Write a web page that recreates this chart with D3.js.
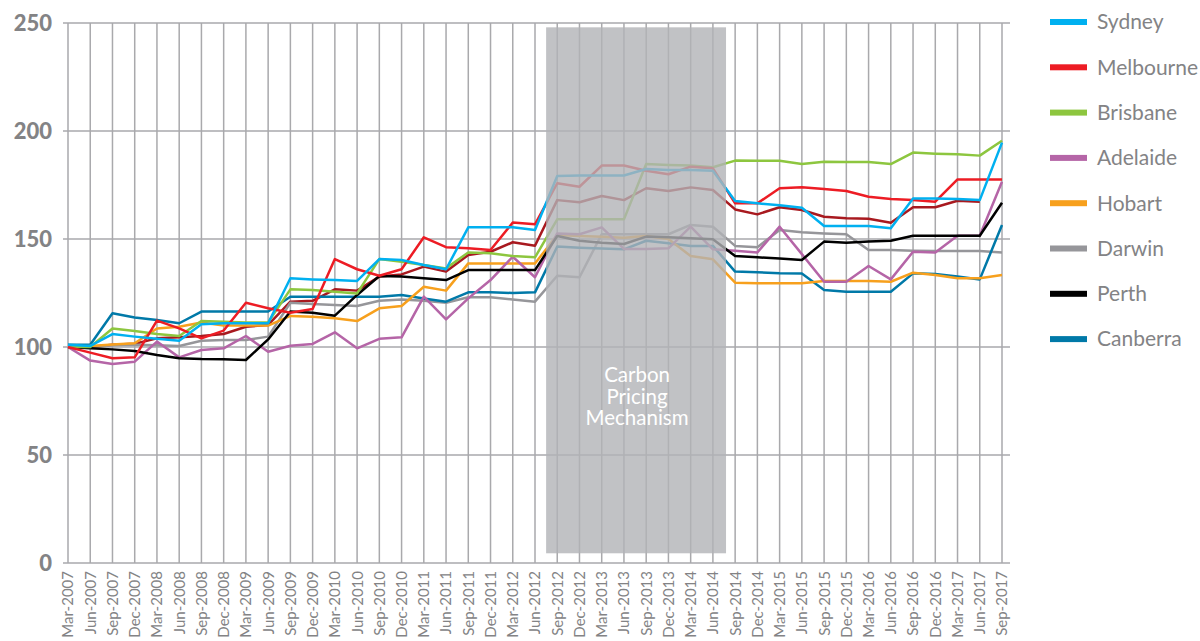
<!DOCTYPE html>
<html>
<head>
<meta charset="utf-8">
<script src="https://cdn.jsdelivr.net/npm/d3@7"></script>
<style>
  body { margin: 0; background: #fff; }
  svg text { font-family: Lato, "Open Sans", sans-serif; }
</style>
</head>
<body>
<svg id="chart" width="1200" height="641"></svg>
<script>

var quarters = [
	"Mar-2007","Jun-2007","Sep-2007","Dec-2007","Mar-2008","Jun-2008","Sep-2008","Dec-2008",
	"Mar-2009","Jun-2009","Sep-2009","Dec-2009","Mar-2010","Jun-2010","Sep-2010","Dec-2010",
	"Mar-2011","Jun-2011","Sep-2011","Dec-2011","Mar-2012","Jun-2012","Sep-2012","Dec-2012",
	"Mar-2013","Jun-2013","Sep-2013","Dec-2013","Mar-2014","Jun-2014","Sep-2014","Dec-2014",
	"Mar-2015","Jun-2015","Sep-2015","Dec-2015","Mar-2016","Jun-2016","Sep-2016","Dec-2016",
	"Mar-2017","Jun-2017","Sep-2017"];

var yTicks = [0, 50, 100, 150, 200, 250];

var sydney = [101,100.5,106,104.8,103.8,102.9,110.5,111,111,111,131.8,131.3,131,130.6,140.7,140.3,138,136,155.4,155.4,155.4,154.2,
	179.2,179.4,179.4,179.4,182.4,182,182,181.6,167.6,166.5,165.6,164.5,156,156,156,155,168.8,168.8,168.5,168,194.6];
var melbourne = [100,97.4,94.8,95.2,112.2,108.6,104,107.6,120.5,117.9,115.9,117.6,140.7,136,133,136,150.8,146.2,145.7,144.9,157.6,156.8,
	175.8,174.2,184,184,181.6,180,183.5,182.7,166.5,166.5,173.5,174,173.1,172.2,169.6,168.5,168,167.3,177.6,177.6,177.6];
var brisbane = [100,100,108.6,107.4,106,105.1,112,111.7,111.4,111.4,126.7,126.4,125.6,124.8,140.7,139.5,138,136.4,143.8,143.4,142.1,141.5,
	159.1,159.1,159.1,159.1,184.7,184.3,184,183.2,186.3,186.2,186.2,184.7,185.8,185.7,185.7,184.7,190,189.5,189.2,188.6,195.5];
var adelaide = [100,93.7,92.1,93.2,102.5,95.2,98.6,99.4,105.1,97.8,100.6,101.4,106.8,99.4,103.8,104.5,123.3,112.8,122.5,131,141.8,132.3,
	152.6,152.2,155.4,145.4,145.4,145.7,155.7,145.2,144.6,143.8,155.7,143,130.2,130.2,137.5,131.3,144.1,143.8,151.5,151.5,176.5];
var hobart = [100,100.5,101.2,101.7,108.6,109.4,111.3,109.9,109.9,109.9,114.4,114,113.3,112,117.9,119,127.9,126.1,138.7,138.7,138.7,138.7,
	151.9,151.4,151,150.6,151.4,150,142.1,140.6,129.8,129.5,129.5,129.5,130.6,130.6,130.6,130.2,134.4,133.3,131.8,131.8,133.3];
var darwin = [100,100,100.8,101,100.8,100.5,102.9,103.2,103.2,104.8,120.5,119.9,119.4,119,121.4,122,121.4,120.5,123,123,122,121,
	133,132.3,152.2,152.2,152.2,152.2,156.5,155.7,146.8,146.2,154.2,153.1,152.6,152.2,144.9,144.9,144.6,144.5,144.5,144.5,143.8];
var perth = [100,99.4,98.9,98.1,96.3,94.8,94.4,94.3,94,103.5,116.4,115.9,114.5,124.1,132.9,132.6,131.8,131,135.6,135.6,135.6,135.6,
	151.4,149.2,148.3,147.7,151.1,150.8,150.3,149.9,142.1,141.5,141,140.3,148.8,148.3,148.8,149.2,151.5,151.5,151.5,151.5,166.8];
var canberra = [101,101,115.6,113.7,112.5,111,116.4,116.4,116.4,116.4,123.3,123.3,123.3,123.3,123.3,124.1,122.5,121,125.3,125.3,125,125.3,
	146.5,146,145.6,145.2,149.2,148,146.8,146.8,134.9,134.6,134.1,134,126.4,125.6,125.6,125.6,134.1,133.8,132.6,131.3,156.5];
// dark red line, not in the legend, stops at Jun-2017
var unlabelled = [100,100,101,101.5,104,104.5,105.1,106,109.4,110.2,121,121.4,126.7,126.1,132.6,133.6,137.2,134.9,142.6,144.1,148.5,146.9,
	168,167,169.9,168,173.5,172.2,173.9,172.7,163.7,161.4,164.7,163.4,160.3,159.6,159.4,157.5,164.7,164.7,167.7,167.3,null];

var cityNames = ["Sydney","Melbourne","Brisbane","Adelaide","Hobart","Darwin","Perth","Canberra"];
var cityColors = ["#00b0f0","#ed1c24","#8dc63f","#b565a7","#f7a01d","#96969a","#000000","#0079a8"];
var cityValues = [sydney, melbourne, brisbane, adelaide, hobart, darwin, perth, canberra];

var shadeLabel = ["Carbon","Pricing","Mechanism"];

var svg = d3.select("#chart");

var x = d3.scalePoint().domain(quarters).range([68, 1002]);
var y = d3.scaleLinear().domain([0, 250]).range([563, 23]);
var step = x.step();

var gridColor = "#a9a9ac";
var textColor = "#838385";

// vertical grid
svg.append("g").selectAll("line").data(quarters).enter().append("line")
	.attr("x1", function(d) { return x(d); })
	.attr("x2", function(d) { return x(d); })
	.attr("y1", y(250))
	.attr("y2", y(0))
	.attr("stroke", gridColor)
	.attr("stroke-width", 1.5);

// horizontal grid
svg.append("g").selectAll("line").data(yTicks).enter().append("line")
	.attr("x1", 63)
	.attr("x2", 1010)
	.attr("y1", function(d) { return y(d); })
	.attr("y2", function(d) { return y(d); })
	.attr("stroke", gridColor)
	.attr("stroke-width", 1.5);

// y labels
svg.append("g").selectAll("text").data(yTicks).enter().append("text")
	.attr("x", 52)
	.attr("y", function(d) { return y(d); })
	.attr("dy", "0.36em")
	.attr("text-anchor", "end")
	.attr("font-size", 22)
	.attr("font-weight", 900)
	.attr("fill", textColor)
	.text(function(d) { return d; });

// x labels
svg.append("g").selectAll("text").data(quarters).enter().append("text")
	.attr("transform", function(d) { return "translate(" + x(d) + ",571) rotate(-90)"; })
	.attr("dy", "0.36em")
	.attr("text-anchor", "end")
	.attr("font-size", 15)
	.attr("fill", textColor)
	.text(function(d) { return d; });

var line = d3.line()
	.defined(function(d) { return d != null; })
	.x(function(d, i) { return x(quarters[i]); })
	.y(function(d) { return y(d); });

var drawSeries = function(values, color) {
	svg.append("path")
		.datum(values)
		.attr("d", line)
		.attr("fill", "none")
		.attr("stroke", color)
		.attr("stroke-width", 2.5)
		.attr("stroke-linejoin", "round");
};

drawSeries(unlabelled, "#a8191f");
[5, 7, 4, 3, 6, 2, 1, 0].forEach(function(k) {
	drawSeries(cityValues[k], cityColors[k]);
});

// carbon pricing shade, drawn over the lines
var shadeLeft = x("Jun-2012") + step / 2;
var shadeRight = x("Jun-2014") + step / 2 + 2;
svg.append("rect")
	.attr("x", shadeLeft)
	.attr("y", y(248))
	.attr("width", shadeRight - shadeLeft)
	.attr("height", y(4.5) - y(248))
	.attr("fill", "#b2b3b7")
	.attr("opacity", 0.8);

svg.append("g").selectAll("text").data(shadeLabel).enter().append("text")
	.attr("x", (shadeLeft + shadeRight) / 2 + 1)
	.attr("y", function(d, i) { return 382 + i * 21.5; })
	.attr("text-anchor", "middle")
	.attr("font-size", 20.5)
	.attr("fill", "#ffffff")
	.text(function(d) { return d; });

// legend
var legend = svg.append("g").selectAll("g").data(cityNames).enter().append("g")
	.attr("transform", function(d, i) { return "translate(1050," + (22 + i * 45.3) + ")"; });

legend.append("rect")
	.attr("x", 0)
	.attr("y", -3)
	.attr("width", 37)
	.attr("height", 6)
	.attr("fill", function(d, i) { return cityColors[i]; });

legend.append("text")
	.attr("x", 47)
	.attr("dy", "0.35em")
	.attr("font-size", 21)
	.attr("fill", textColor)
	.text(function(d) { return d; });

</script>
</body>
</html>
